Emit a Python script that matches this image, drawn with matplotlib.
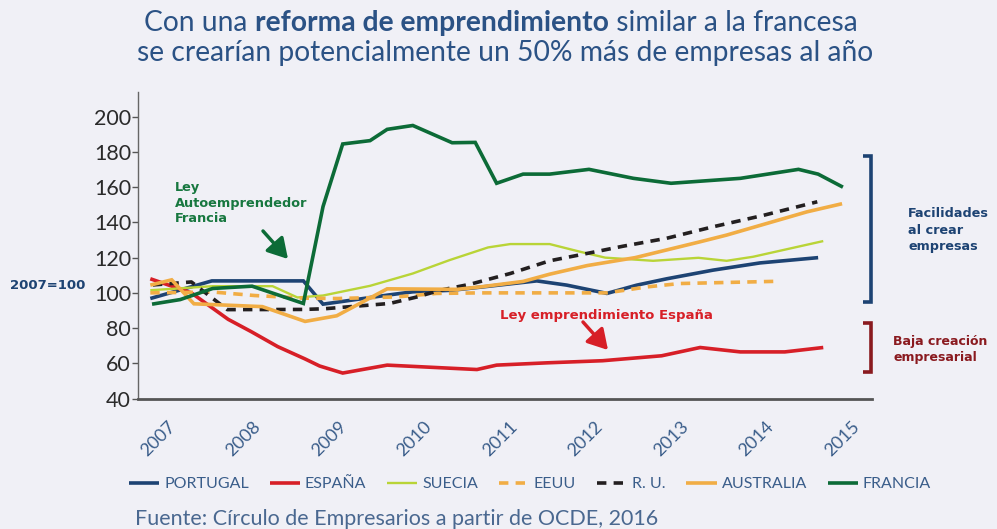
import matplotlib
matplotlib.use("Agg")
import matplotlib.pyplot as plt
from matplotlib.lines import Line2D
from matplotlib.transforms import ScaledTranslation

# ---------------- data (index 2007=100) ----------------
years_ticks = [2007, 2008, 2009, 2010, 2011, 2012, 2013, 2014, 2015]
y_ticks = [40, 60, 80, 100, 120, 140, 160, 180, 200]

portugal_x = [2006.77, 2007.49, 2008.56, 2008.79, 2009.54, 2009.84, 2010.30, 2010.66, 2011.29,
              2011.64, 2012.11, 2012.46, 2012.81, 2013.35, 2013.90, 2014.58]
portugal_y = [96.8, 106.8, 106.8, 93.6, 98.7, 100.6, 101.5, 103.4, 106.8,
              104.4, 99.7, 104.4, 108.0, 112.9, 117.0, 120.0]

espana_x = [2006.77, 2007.25, 2007.68, 2007.95, 2008.26, 2008.58, 2008.75, 2009.02, 2009.54,
            2010.59, 2010.82, 2011.41, 2012.06, 2012.75, 2013.20, 2013.67, 2014.19, 2014.64]
espana_y = [108.0, 100.0, 85.0, 78.0, 69.5, 62.5, 58.5, 54.5, 59.0,
            56.5, 59.0, 60.3, 61.5, 64.3, 69.0, 66.5, 66.5, 69.0]

suecia_x = [2006.77, 2007.50, 2008.20, 2008.49, 2008.79, 2009.34, 2009.84, 2010.27, 2010.72,
            2010.98, 2011.44, 2011.80, 2012.09, 2012.65, 2013.18, 2013.51, 2013.82, 2014.64]
suecia_y = [101.5, 103.8, 103.8, 97.4, 98.5, 104.0, 111.0, 118.6, 125.8,
            127.7, 127.7, 123.3, 120.0, 118.2, 119.9, 118.2, 120.5, 129.4]

eeuu_x = [2006.77, 2007.50, 2007.99, 2008.56, 2008.96, 2009.65, 2010.12, 2010.63, 2011.44,
          2012.11, 2012.58, 2012.96, 2014.13]
eeuu_y = [100.0, 100.5, 98.5, 97.0, 96.8, 97.7, 99.7, 100.0, 100.0,
          100.0, 103.4, 105.3, 106.6]

ru_x = [2006.80, 2007.25, 2007.67, 2008.56, 2008.81, 2009.57, 2009.89, 2010.16, 2010.51,
        2010.98, 2011.44, 2011.88, 2012.30, 2012.81, 2013.35, 2013.94, 2014.57]
ru_y = [104.5, 106.2, 90.5, 90.6, 91.0, 94.0, 97.7, 101.5, 104.9,
        111.0, 118.2, 122.4, 126.5, 131.0, 137.5, 144.0, 151.7]

australia_x = [2006.77, 2007.02, 2007.28, 2008.08, 2008.58, 2008.95, 2009.54, 2010.36, 2010.63,
               2011.13, 2011.44, 2011.88, 2012.44, 2013.20, 2013.51, 2014.45, 2014.86]
australia_y = [104.4, 107.4, 93.8, 92.2, 83.8, 87.0, 102.3, 102.0, 103.4,
               106.5, 110.6, 115.5, 120.0, 129.0, 132.8, 146.0, 150.6]

francia_x = [2006.79, 2007.12, 2007.50, 2007.96, 2008.56, 2008.79, 2009.02, 2009.34, 2009.54,
             2009.84, 2010.30, 2010.57, 2010.82, 2011.13, 2011.44, 2011.90, 2012.42, 2012.86,
             2013.67, 2014.35, 2014.58, 2014.87]
francia_y = [93.6, 96.2, 102.5, 103.8, 94.0, 149.0, 184.5, 186.4, 192.8,
             195.0, 185.2, 185.4, 162.2, 167.4, 167.4, 170.1, 165.0, 162.2,
             165.0, 170.1, 167.4, 160.0]

# ---------------- style ----------------
BG = "#f0f0f6"
NAVY = "#1d4373"
TITLE = "#2b5285"
RED = "#d71f27"
LIME = "#b9d437"
ORANGE = "#f1ad45"
BLACK = "#231f20"
GREEN = "#0c6b37"
DARKRED = "#8a1a1f"
TXTNAVY = "#3a5d8a"

plt.rcParams['font.family'] = ['Lato', 'DejaVu Sans']
BOLDFAM = ['DejaVu Sans']

W, H = 997, 529
fig = plt.figure(figsize=(W / 100, H / 100), dpi=100, facecolor=BG)

def fx(px):
    return px / W

def fy(py):
    return 1 - py / H

ax_l, ax_r, ax_t, ax_b = 138, 872, 92, 398.6
ax = fig.add_axes([fx(ax_l), fy(ax_b), (ax_r - ax_l) / W, (ax_b - ax_t) / H])
ax.set_facecolor(BG)

lw = 2.6
series = [
    ("PORTUGAL", portugal_x, portugal_y, dict(color=NAVY, lw=lw)),
    ("ESPAÑA", espana_x, espana_y, dict(color=RED, lw=lw)),
    ("SUECIA", suecia_x, suecia_y, dict(color=LIME, lw=1.7)),
    ("EEUU", eeuu_x, eeuu_y, dict(color=ORANGE, lw=lw, dashes=(2.6, 2.0))),
    ("R. U.", ru_x, ru_y, dict(color=BLACK, lw=lw, dashes=(2.6, 2.0))),
    ("AUSTRALIA", australia_x, australia_y, dict(color=ORANGE, lw=lw)),
    ("FRANCIA", francia_x, francia_y, dict(color=GREEN, lw=lw)),
]
handles = []
for name, xs, ys, kw in series:
    ln, = ax.plot(xs, ys, solid_joinstyle='miter', solid_capstyle='butt',
                  dash_capstyle='butt', label=name, **kw)
    handles.append(ln)

ax.set_xlim(2006.626, 2015.21)
ax.set_ylim(40, 214)
ax.set_yticks(y_ticks)
ax.set_yticklabels([str(v) for v in y_ticks], fontsize=15.5, color="#2a2a2a")
ax.tick_params(axis='y', length=4, width=1, color="#555555", pad=1)
ax.set_xticks(years_ticks)
ax.set_xticklabels([str(y) for y in years_ticks], rotation=45, fontsize=13,
                   color=TXTNAVY, ha='right', va='top', rotation_mode='anchor')
ax.tick_params(axis='x', length=0, pad=14)
shift = ScaledTranslation(-3 / 100, 0, fig.dpi_scale_trans)
for lab in ax.get_xticklabels():
    lab.set_transform(lab.get_transform() + shift)
for s in ['top', 'right']:
    ax.spines[s].set_visible(False)
ax.spines['left'].set_color("#666666")
ax.spines['left'].set_linewidth(1.0)
ax.spines['bottom'].set_color("#555555")
ax.spines['bottom'].set_linewidth(2.0)

# ---------------- title (mixed weight) ----------------
renderer = fig.canvas.get_renderer()

def rich_line(parts, cx, py, size, color):
    texts = []
    for s, w in parts:
        t = fig.text(0, fy(py), s, fontsize=size, fontweight=w, color=color,
                     va='baseline', ha='left')
        texts.append(t)
    widths = [t.get_window_extent(renderer).width for t in texts]
    total = sum(widths)
    x = cx - total / 2
    for t, wd in zip(texts, widths):
        t.set_x(fx(x))
        x += wd

rich_line([("Con una ", 'normal'), ("reforma de emprendimiento", 'bold'),
           (" similar a la francesa", 'normal')], 501, 31, 20.3, TITLE)
rich_line([("se crearían potencialmente un 50% más de empresas al año", 'normal')],
          505, 61, 20.3, TITLE)

# ---------------- annotations ----------------
fig.text(fx(175), fy(222.5), "Ley\nAutoemprendedor\nFrancia", fontsize=9.3, family=BOLDFAM,
         fontweight='bold', color="#17773f", va='baseline', ha='left', linespacing=1.3)
fig.text(fx(500), fy(319), "Ley emprendimiento España", fontsize=9.5, family=BOLDFAM,
         fontweight='bold', color=RED, va='baseline', ha='left')
fig.text(fx(10), fy(289), "2007=100", fontsize=9.5, fontweight='bold', family=BOLDFAM,
         color=NAVY, va='baseline', ha='left')
fig.text(fx(908), fy(250), "Facilidades\nal crear\nempresas", fontsize=9.2, family=BOLDFAM,
         fontweight='bold', color=NAVY, va='baseline', ha='left', linespacing=1.35)
fig.text(fx(893), fy(361.5), "Baja creación\nempresarial", fontsize=9.0, family=BOLDFAM,
         fontweight='bold', color=DARKRED, va='baseline', ha='left', linespacing=1.35)

def arrow(x0, y0, x1, y1, color):
    ax.annotate("", xy=(x1, H - y1), xytext=(x0, H - y0),
                xycoords='figure pixels', textcoords='figure pixels',
                arrowprops=dict(arrowstyle='-|>,head_length=0.6,head_width=0.35',
                                lw=2.5, color=color, mutation_scale=20,
                                shrinkA=0, shrinkB=0),
                annotation_clip=False)

arrow(263, 231, 288, 259, GREEN)
arrow(583, 322, 608, 350, RED)

def bracket(x_in, x_out, y_top, y_bot, color):
    xs = [x_in, x_out, x_out, x_in]
    ys = [y_top, y_top, y_bot, y_bot]
    ln = Line2D([x / 100 for x in xs], [(H - y) / 100 for y in ys],
                transform=fig.dpi_scale_trans, color=color, lw=2.6,
                solid_joinstyle='miter', solid_capstyle='butt')
    fig.add_artist(ln)

bracket(863, 870.5, 156, 302, NAVY)
bracket(863, 870.5, 323, 372, DARKRED)

# ---------------- legend ----------------
leg = fig.legend(handles=handles, loc='center', bbox_to_anchor=(fx(530), fy(484)),
                 ncol=7, frameon=False, handlelength=1.9,
                 handletextpad=0.3, columnspacing=1.3,
                 prop=dict(size=11.5))
for t in leg.get_texts():
    t.set_color(TXTNAVY)

fig.text(fx(135), fy(525), "Fuente: Círculo de Empresarios a partir de OCDE, 2016",
         fontsize=15.5, color="#4a6890", va='baseline', ha='left')

fig.savefig("out.png", dpi=100, facecolor=BG)
